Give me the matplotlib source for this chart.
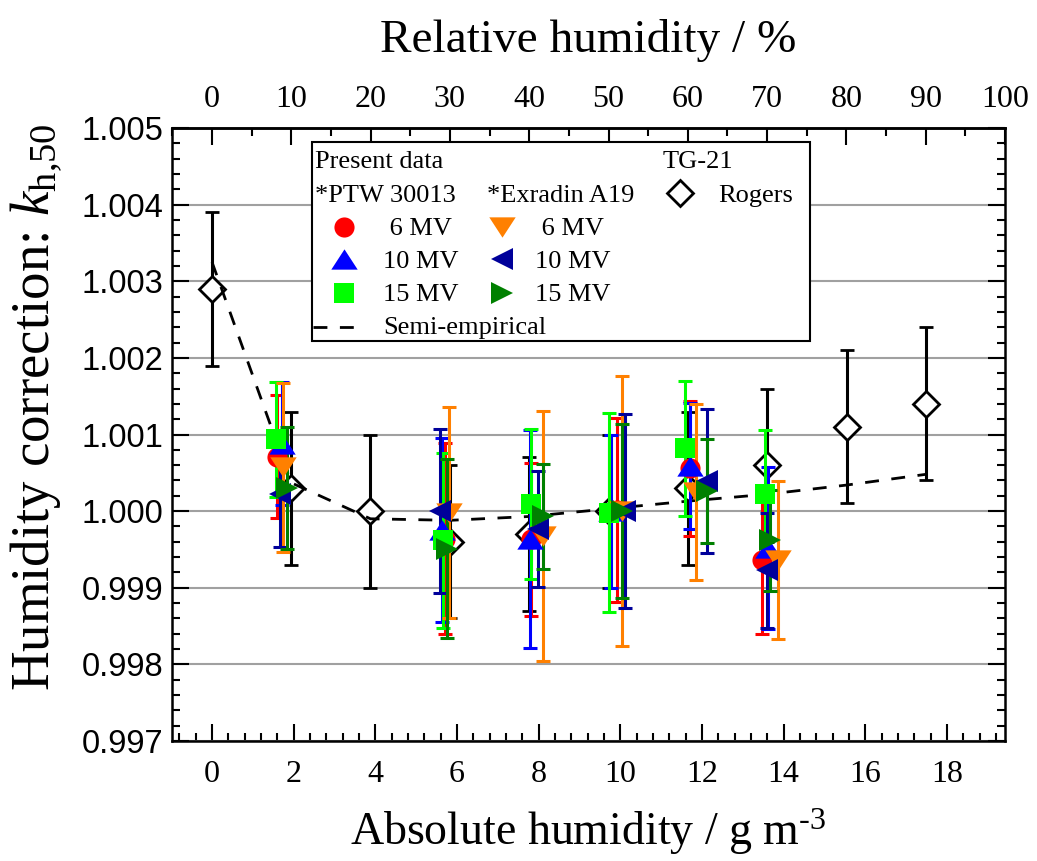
import numpy as np
import matplotlib
matplotlib.use('Agg')
import matplotlib.pyplot as plt
from matplotlib.patches import Rectangle

plt.rcParams['font.family'] = 'Liberation Serif'
plt.rcParams['mathtext.fontset'] = 'custom'
plt.rcParams['mathtext.rm'] = 'Liberation Serif'
plt.rcParams['mathtext.it'] = 'Liberation Serif:italic'

# Rogers (TG-21) data
rogers_x = [0.0, 1.94, 3.88, 5.83, 7.77, 9.71, 11.65, 13.59, 15.54, 17.48]
rogers_y = [1.0029, 1.0003, 1.0000, 0.9996, 0.9997, 1.0000, 1.0003, 1.0006, 1.0011, 1.0014]
rogers_err = [0.001] * 10

# semi-empirical curve
semi_x = [0.0, 1.94, 3.88, 5.83, 7.77, 9.71, 11.65, 13.59, 15.54, 17.48]
semi_y = [1.00325, 1.00037, 0.99990, 0.99988, 0.99993, 1.00003, 1.00013, 1.00022, 1.00034, 1.00048]

# present data, PTW 30013
ptw6_x = [1.58, 5.70, 7.80, 9.91, 11.70, 13.46]
ptw6_y = [1.00071, 0.99964, 0.99963, 1.00001, 1.00056, 0.99936]
ptw6_err = [0.0008, 0.00125, 0.0010, 0.0012, 0.00088, 0.00096]

ptw10_x = [1.71, 5.62, 7.78, 9.78, 11.70, 13.62]
ptw10_y = [1.00088, 0.99975, 0.99964, 1.0000, 1.00059, 0.99952]
ptw10_err = [0.0008, 0.0012, 0.00142, 0.0010, 0.00082, 0.00106]

ptw15_x = [1.56, 5.66, 7.80, 9.73, 11.58, 13.54]
ptw15_y = [1.00094, 0.99962, 1.00009, 0.99998, 1.00082, 1.00023]
ptw15_err = [0.00075, 0.00114, 0.00098, 0.0013, 0.00088, 0.00083]

# present data, Exradin A19
exr6_x = [1.75, 5.80, 8.11, 10.03, 11.86, 13.86]
exr6_y = [1.00057, 0.99998, 0.99968, 1.0000, 1.00025, 0.99936]
exr6_err = [0.0011, 0.00138, 0.00163, 0.00176, 0.00115, 0.00103]

exr10_x = [1.66, 5.58, 7.99, 10.11, 12.11, 13.58]
exr10_y = [1.00023, 1.0000, 0.99977, 1.0000, 1.00039, 0.99923]
exr10_err = [0.0007, 0.00107, 0.00076, 0.00127, 0.00094, 0.00075]

exr15_x = [1.83, 5.75, 8.11, 10.03, 12.11, 13.66]
exr15_y = [1.0003, 0.99951, 0.99993, 1.0000, 1.00026, 0.99962]
exr15_err = [0.0008, 0.00117, 0.00069, 0.00114, 0.00068, 0.00066]

tri_up = [(-1.3, -1.0), (1.3, -1.0), (0.0, 1.0), (-1.3, -1.0)]
tri_down = [(-1.3, 1.0), (1.3, 1.0), (0.0, -1.0), (-1.3, 1.0)]

series = [
    (ptw6_x, ptw6_y, ptw6_err, 'o', '#ff0000', 14.5, ' 6 MV'),
    (ptw10_x, ptw10_y, ptw10_err, tri_up, '#0000ff', 19, '10 MV'),
    (ptw15_x, ptw15_y, ptw15_err, 's', '#00ff00', 14, '15 MV'),
    (exr6_x, exr6_y, exr6_err, tri_down, '#ff8000', 19, ' 6 MV'),
    (exr10_x, exr10_y, exr10_err, '<', '#00009a', 16, '10 MV'),
    (exr15_x, exr15_y, exr15_err, '>', '#008000', 16, '15 MV'),
]

fig = plt.figure(figsize=(10.37, 8.61), dpi=100)
ax = fig.add_axes([172/1037, 120/861, 833/1037, 613/861])

ax.set_xlim(-0.98, 19.42)
ax.set_ylim(0.997, 1.005)
ax.yaxis.grid(True, color='#a0a0a0', lw=1.5, zorder=0)
ax.set_axisbelow(True)

ax.errorbar(rogers_x, rogers_y, yerr=rogers_err, fmt='D', ms=13, mfc='white', mec='black',
            mew=2, color='black', elinewidth=2.2, capsize=5, capthick=2.2, zorder=3)
ax.plot(semi_x, semi_y, color='black', lw=2, ls=(0, (5, 4.5)), zorder=3.5)

for i, (x, y, e, m, c, ms, lab) in enumerate(series):
    ax.errorbar(x, y, yerr=e, fmt='none', ecolor=c, elinewidth=2.2, capsize=5, capthick=2.2,
                zorder=4 + i * 0.1)
    ax.plot(x, y, ls='none', marker=m, ms=ms, color=c, mec=c, mew=0, zorder=5 + i * 0.1)

# ticks
ax.set_xticks(np.arange(0, 19, 2))
ax.set_xticks(np.arange(-0.8, 19.42, 0.4), minor=True)
ax.set_yticks(np.arange(0.997, 1.00501, 0.001))
ax.set_yticks(np.arange(0.997, 1.00501, 0.0002), minor=True)
ax.set_yticklabels(['%.3f' % v for v in np.arange(0.997, 1.00501, 0.001)],
                   family='Liberation Sans', fontsize=23.5)
ax.tick_params(axis='x', which='both', direction='in', top=False, labelsize=23, pad=14)
ax.tick_params(axis='y', which='both', direction='in', right=True, pad=6)
ax.tick_params(which='major', length=12, width=1.5)
ax.tick_params(which='minor', length=6, width=1.5)
for s in ax.spines.values():
    s.set_linewidth(1.8)

top = ax.secondary_xaxis('top', functions=(lambda v: v * 100 / 19.42, lambda r: r * 19.42 / 100))
top.set_xticks(np.arange(0, 101, 10))
top.set_xticks(np.arange(-5, 101, 5), minor=True)
top.tick_params(which='both', direction='in', labelsize=23, pad=10)
top.tick_params(which='major', length=12, width=1.5)
top.tick_params(which='minor', length=6, width=1.5)
top.spines['top'].set_linewidth(1.8)
top.set_xlabel('Relative humidity / %', fontsize=34, labelpad=24)

ax.set_xlabel('Absolute humidity / g m$^{\\text{-3}}$', fontsize=33, labelpad=12)
ax.set_ylabel('Humidity correction: $k_{\\mathrm{h{,}50}}$', fontsize=39.5)
ax.yaxis.set_label_coords(-0.13, 0.545)


# legend, built by hand
def pos(px, py):
    return ((px - 172) / 833, (741 - py) / 613)


ax.add_patch(Rectangle(pos(312, 341), (810 - 312) / 833, (341 - 142) / 613, transform=ax.transAxes,
                       facecolor='white', edgecolor='black', lw=1.5, zorder=6, clip_on=False))
lfs = 19
lkw = dict(transform=ax.transAxes, fontsize=lfs, va='baseline', ha='left', zorder=7)
ax.text(*pos(315, 168), 'Present data', **lkw)
ax.text(*pos(315, 202), '*PTW 30013', **lkw)
ax.text(*pos(487, 202), '*Exradin A19', **lkw)
ax.text(*pos(663, 168), 'TG-21', **lkw)
ax.text(*pos(718, 202), 'Rogers', **lkw)

rows_y = [227, 259, 293]
base_y = [235, 268, 301]
for i, (x, y, e, m, c, ms, lab) in enumerate(series):
    col = i // 3
    r = i % 3
    mx = 344 if col == 0 else 502
    tx = 383 if col == 0 else 535
    ax.plot(*pos(mx, rows_y[r]), ls='none', marker=m, ms=ms, color=c, mew=0,
            transform=ax.transAxes, clip_on=False, zorder=7)
    ax.text(*pos(tx, base_y[r]), lab, **lkw)

ax.plot(*pos(680, 193), ls='none', marker='D', ms=13, mfc='white', mec='black', mew=2,
        transform=ax.transAxes, clip_on=False, zorder=7)
lx0, ly0 = pos(313, 327)
lx1, _ = pos(362, 327)
ax.plot([lx0, lx1], [ly0, ly0], color='black', lw=2, ls=(0, (5, 4.5)), transform=ax.transAxes,
        clip_on=False, zorder=7)
ax.text(*pos(383, 334), 'Semi-empirical', **lkw)

fig.savefig('out.png', dpi=100)
